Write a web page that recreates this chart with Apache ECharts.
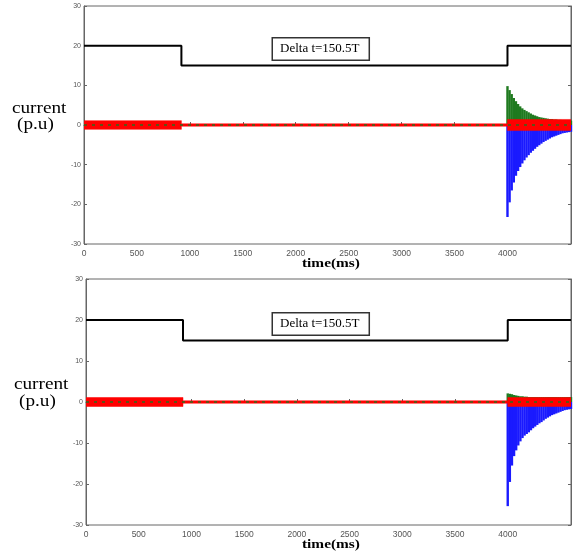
<!DOCTYPE html>
<html><head><meta charset="utf-8">
<script src="https://cdn.jsdelivr.net/npm/echarts@6/dist/echarts.min.js"></script>
<style>html,body{margin:0;padding:0;background:#fff}#c{width:573px;height:554px}</style>
</head><body><div id="c"></div>
<script>
// ---- data ----
const xTicks = [0, 500, 1000, 1500, 2000, 2500, 3000, 3500, 4000];
const yTicks = [-30, -20, -10, 0, 10, 20, 30];

const stepTime  = [0, 920, 920, 4000, 4000, 4600];
const stepValue = [20, 20, 15, 15, 20, 20];

const bandTime        = [0, 920, 920, 4000, 4000, 4600];
const bandUpperTop    = [1.1, 1.1, 0.3, 0.3, 1.4, 1.4];
const bandLowerTop    = [-1.1, -1.1, -0.3, -0.3, -1.4, -1.4];
const bandUpperBottom = [1.1, 1.1, 0.3, 0.3, 1.1, 1.1];
const bandLowerBottom = [-1.1, -1.1, -0.3, -0.3, -1.1, -1.1];

const spikeTime = [4000,4020,4040,4060,4080,4100,4120,4140,4160,4180,4200,4220,4240,4260,4280,4300,
                   4320,4340,4360,4380,4400,4420,4440,4460,4480,4500,4520,4540,4560,4580,4600];
const greenTop = [9.8,8.8,7.8,6.8,6.0,5.3,4.7,4.2,3.8,3.5,3.2,2.9,2.6,2.4,2.2,2.0,
                  1.9,1.8,1.7,1.6,1.5,1.5,1.4,1.4,1.3,1.3,1.2,1.2,1.2,1.1,1.1];
const blueTop  = [-23.2,-19.5,-16.5,-14.5,-12.8,-11.6,-10.6,-9.7,-8.9,-8.2,-7.6,-7.0,-6.5,-6.0,-5.5,-5.1,
                  -4.7,-4.3,-4.0,-3.7,-3.4,-3.1,-2.9,-2.7,-2.5,-2.3,-2.1,-2.0,-1.9,-1.8,-1.7];
const greenBottom = [2.1,2.0,1.9,1.7,1.6,1.5,1.4,1.4,1.3,1.3,1.2,1.2,1.2,1.2,1.2,1.2,
                     1.2,1.2,1.2,1.2,1.2,1.2,1.2,1.2,1.2,1.2,1.2,1.2,1.2,1.2,1.2];
const blueBottom  = [-25.4,-19.5,-15.5,-13.2,-11.8,-10.6,-9.6,-8.8,-8.2,-7.8,-7.4,-6.9,-6.4,-6.0,-5.6,-5.2,
                     -4.9,-4.5,-4.1,-3.8,-3.5,-3.2,-3.0,-2.8,-2.6,-2.4,-2.2,-2.0,-1.9,-1.8,-1.7];

const deltaText = 'Delta t=150.5T';

// ---- build chart ----
const zip = (a, b) => a.map((v, i) => [v, b[i]]);
const grids = [
  {left: 84, top: 6, width: 487, height: 238},
  {left: 86, top: 279, width: 485, height: 246}
];

const xAxis = [], yAxis = [], series = [];
const panels = [
  {green: greenTop, blue: blueTop, up: bandUpperTop, lo: bandLowerTop},
  {green: greenBottom, blue: blueBottom, up: bandUpperBottom, lo: bandLowerBottom}
];
panels.forEach((p, g) => {
  xAxis.push({
    type: 'value', gridIndex: g, min: 0, max: 4600,
    axisLine: {lineStyle: {color: '#666', width: 1}},
    axisTick: {inside: true, length: 3, customValues: xTicks, lineStyle: {color: '#666'}},
    axisLabel: {customValues: xTicks, margin: 5, fontSize: 8.5, color: '#555', fontFamily: 'Liberation Sans',
                formatter: v => String(v)},
    splitLine: {show: false}
  });
  yAxis.push({
    type: 'value', gridIndex: g, min: -30, max: 30,
    axisLine: {lineStyle: {color: '#666', width: 1}},
    axisTick: {inside: true, length: 3, customValues: yTicks, lineStyle: {color: '#666'}},
    axisLabel: {customValues: yTicks, margin: 3, fontSize: 7, color: '#555', fontFamily: 'Liberation Sans',
                formatter: v => String(v)},
    splitLine: {show: false}
  });
  yAxis.push({
    type: 'value', gridIndex: g, min: -30, max: 30, position: 'right',
    axisLine: {show: true, lineStyle: {color: '#666', width: 1}},
    axisTick: {inside: true, length: 3, customValues: yTicks, lineStyle: {color: '#666'}},
    axisLabel: {show: false}, splitLine: {show: false}
  });
  const yi = g * 2;
  series.push({
    type: 'bar', xAxisIndex: g, yAxisIndex: yi, barWidth: 2.4, barGap: '-100%',
    itemStyle: {color: '#1f7a1f'}, data: zip(spikeTime, p.green), z: 2, silent: true
  });
  series.push({
    type: 'bar', xAxisIndex: g, yAxisIndex: yi, barWidth: 2.4, barGap: '-100%',
    itemStyle: {color: '#1a1aff'}, data: zip(spikeTime, p.blue), z: 2, silent: true
  });
  [p.up, p.lo].forEach(arr => series.push({
    type: 'line', xAxisIndex: g, yAxisIndex: yi, showSymbol: false, symbol: 'none',
    lineStyle: {width: 0.5, color: '#ff0000'}, areaStyle: {color: '#ff0000', opacity: 1},
    data: zip(bandTime, arr), z: 3, silent: true
  }));
  series.push({
    type: 'line', xAxisIndex: g, yAxisIndex: yi, symbol: 'none',
    lineStyle: {width: 1.5, color: '#2e6b1c', type: [3, 5]},
    data: [[0, 0], [4600, 0]], z: 4, silent: true
  });
  series.push({
    type: 'line', xAxisIndex: g, yAxisIndex: yi, symbol: 'none',
    lineStyle: {width: 2, color: '#000'}, data: zip(stepTime, stepValue), z: 5, silent: true
  });
});

const serif = 'Liberation Serif';
const graphic = [];
[[110, 126, 264, 49.5, 12], [386, 403, 545, 324.5, 14]].forEach(([cy1, cy2, ty, by, lx]) => {
  graphic.push({type: 'text', x: lx, y: cy1 - 9, scaleX: 1.2,
    style: {text: 'current', font: '16px ' + serif, fill: '#000'}});
  graphic.push({type: 'text', x: lx + 5, y: cy2 - 9, scaleX: 1.2,
    style: {text: '(p.u)', font: '16px ' + serif, fill: '#000'}});
  graphic.push({type: 'text', x: 302, y: ty - 7, scaleX: 1.18,
    style: {text: 'time(ms)', font: 'bold 13px ' + serif, fill: '#000'}});
  graphic.push({type: 'text', x: 273, y: by - 11, z: 100,
    style: {text: deltaText, font: '13px ' + serif, fill: '#000', backgroundColor: '#fff',
            borderColor: '#333', borderWidth: 1.5, padding: [4, 9, 4, 7]}});
});

const chart = echarts.init(document.getElementById('c'), null, {renderer: 'canvas'});
chart.setOption({
  animation: false,
  backgroundColor: '#fff',
  grid: grids.map(g => Object.assign({show: true, borderColor: '#666', borderWidth: 1, backgroundColor: 'transparent'}, g)),
  xAxis, yAxis, series, graphic
});
</script></body></html>
